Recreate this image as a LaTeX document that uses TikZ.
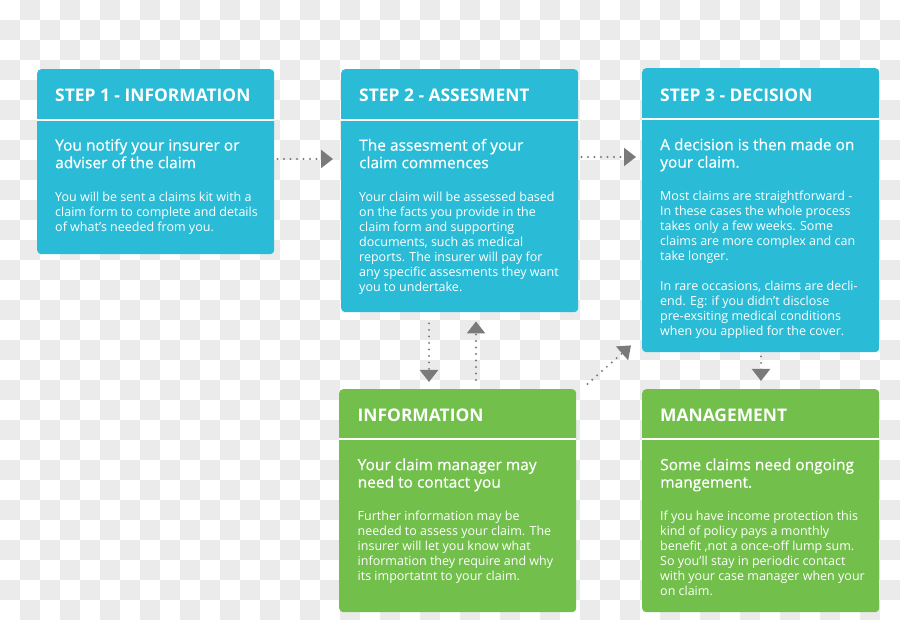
\documentclass[tikz,border=0pt]{standalone}
\usepackage{fontspec}
\setmainfont{Open Sans}
\newfontfamily\subfont[FakeBold=0.6]{Open Sans}
\usetikzlibrary{arrows.meta}
\definecolor{cyanbox}{HTML}{2ABCD6}
\definecolor{greenbox}{HTML}{72BF4B}
\definecolor{chk}{HTML}{EBEBEB}
\definecolor{arrgray}{HTML}{7A7A7A}
\tikzset{
  card/.style={anchor=north west, inner sep=0pt, rounded corners=4pt, minimum width=237pt},
  headtxt/.style={anchor=base west, inner sep=0pt, text=white, font=\fontsize{17.4}{20}\selectfont\bfseries},
  subtxt/.style={anchor=north west, inner sep=0pt, text=white, align=left, font=\subfont\fontsize{15.5}{17.5}\selectfont},
  bodytxt/.style={anchor=north west, inner sep=0pt, text=white, align=left, font=\fontsize{12.5}{15}\selectfont},
  sepline/.style={draw=white, line width=1.8pt},
  dotarr/.style={draw=arrgray, line width=2.2pt, line cap=round, dash pattern=on 0pt off 6.5pt,
    -{Triangle[width=18pt,length=12pt,fill=arrgray]}}
}
\begin{document}
\begin{tikzpicture}[x=1pt,y=-1pt]
\useasboundingbox (0,0) rectangle (900,620);
% checkerboard background
\fill[white] (0,0) rectangle (900,620);
\foreach \i in {0,...,44}{\foreach \j in {0,...,30}{%
  \pgfmathtruncatemacro\k{mod(\i+\j,2)}%
  \ifnum\k=1 \fill[chk] (\i*20,\j*20) rectangle ++(20,20);\fi}}

% cards
\node[card, fill=cyanbox, minimum height=185pt] (b1) at (37,69) {};
\node[card, fill=cyanbox, minimum height=243pt] (b2) at (341,69) {};
\node[card, fill=cyanbox, minimum height=284pt] (b3) at (642,68) {};
\node[card, fill=greenbox, minimum height=223pt] (b4) at (339,389) {};
\node[card, fill=greenbox, minimum height=223pt] (b5) at (642,389) {};

\draw[sepline] (37,120) -- (274,120);
\draw[sepline] (341,120) -- (578,120);
\draw[sepline] (642,119) -- (879,119);
\draw[sepline] (339,439) -- (576,439);
\draw[sepline] (642,439) -- (879,439);

% box 1
\node[headtxt] (h1) at (55,101.8) {STEP 1 - INFORMATION};
\node[subtxt] (s1) at (55,138.25) {\strut You notify your insurer or\\adviser of the claim};
\node[bodytxt] (t1) at (55,191) {\strut You will be sent a claims kit with a\\claim form to complete and details\\of what’s needed from you.};

% box 2
\node[headtxt] (h2) at (359,101.8) {STEP 2 - ASSESMENT};
\node[subtxt] (s2) at (359,138.25) {\strut The assesment of your\\claim commences};
\node[bodytxt] (t2) at (359,191) {\strut Your claim will be assessed based\\on the facts you provide in the\\claim form and supporting\\documents, such as medical\\reports. The insurer will pay for\\any specific assesments they want\\you to undertake.};

% box 3
\node[headtxt] (h3) at (660,101.3) {STEP 3 - DECISION};
\node[subtxt] (s3) at (660,137.75) {\strut A decision is then made on\\your claim.};
\node[bodytxt] (t3) at (660,189.5) {\strut Most claims are straightforward -\\In these cases the whole process\\takes only a few weeks. Some\\claims are more complex and can\\take longer.\\[15pt]In rare occasions, claims are decli-\\end. Eg: if you didn’t disclose\\pre-exsiting medical conditions\\when you applied for the cover.};

% box 4
\node[headtxt] (h4) at (357.5,421.8) {INFORMATION};
\node[subtxt] (s4) at (357.5,457.75) {\strut Your claim manager may\\need to contact you};
\node[bodytxt] (t4) at (357.5,510.25) {\strut Further information may be\\needed to assess your claim. The\\insurer will let you know what\\information they require and why\\its importatnt to your claim.};

% box 5
\node[headtxt] (h5) at (660,421.8) {MANAGEMENT};
\node[subtxt] (s5) at (660,457.75) {\strut Some claims need ongoing\\mangement.};
\node[bodytxt] (t5) at (660,510.25) {\strut If you have income protection this\\kind of policy pays a monthly\\benefit ,not a once-off lump sum.\\So you’ll stay in periodic contact\\with your case manager when your\\on claim.};

% connectors
\coordinate (r1) at (0,159);
\coordinate (r2) at (0,157);
\coordinate (c1) at (429,0);
\coordinate (c2) at (476,0);
\coordinate (c3) at (761,0);
\draw[dotarr, shorten <=3pt, shorten >=8pt] (b1.east |- r1) -- (b2.west |- r1);
\draw[dotarr, shorten <=3pt, shorten >=6pt] (b2.east |- r2) -- (b3.west |- r2);
\draw[dotarr, shorten <=11pt, shorten >=7pt] (b2.south -| c1) -- (b4.north -| c1);
\draw[dotarr, shorten <=9pt, shorten >=9pt] (b4.north -| c2) -- (b2.south -| c2);
\draw[dotarr] ([shift={(11,-5)}]b4.north east) -- ([shift={(-11,-7)}]b3.south west);
\draw[dotarr, shorten <=4pt, shorten >=8pt] (b3.south -| c3) -- (b5.north -| c3);
\end{tikzpicture}
\end{document}
